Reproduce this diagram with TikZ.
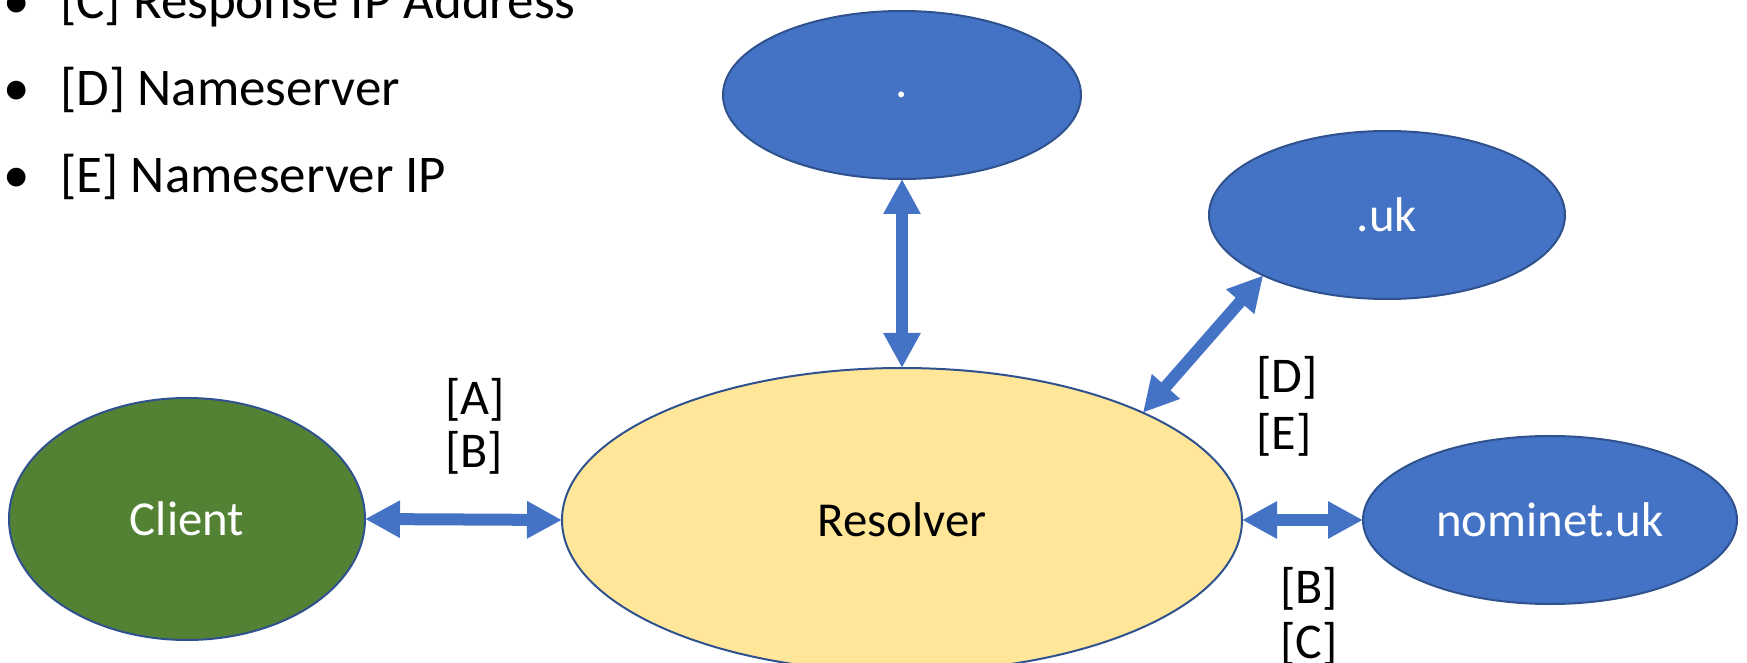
\documentclass[tikz,border=0pt]{standalone}
\usepackage{fontspec}
\setmainfont{Carlito}
\usetikzlibrary{arrows.meta}
\usetikzlibrary{shapes.geometric}
\definecolor{srvblue}{HTML}{4472C4}
\definecolor{srvedge}{HTML}{2F528F}
\definecolor{clgreen}{HTML}{548235}
\definecolor{resyellow}{HTML}{FFE699}
\tikzset{
  srv/.style = {ellipse, draw=srvedge, line width=1pt, inner sep=0pt,
    outer sep=0pt, font=\fontsize{24.4}{29}\selectfont},
  srv_b/.style = {srv, fill=srvblue, text=white},% name server
  srv_g/.style = {srv, fill=clgreen, text=white},% client
  srv_y/.style = {srv, fill=resyellow, text=black},% resolver
  msg/.style = {anchor=base west, inner sep=0pt,
    font=\fontsize{25}{30}\selectfont},
  key/.style = {msg, font=\fontsize{26.5}{32}\selectfont},
  lnk/.style = {draw=srvblue, line width=6pt,
    {Triangle[width=17.5pt,length=17.5pt]}-{Triangle[width=17.5pt,length=17.5pt]}}
}
\begin{document}
\begin{tikzpicture}[x=0.5pt,y=-0.5pt]
\useasboundingbox (0,0) rectangle (1747,663);
% servers
\node [srv_b, minimum width=179pt, minimum height=84pt] (root) at (902,95) {.};
\node [srv_b, minimum width=178pt, minimum height=84pt] (uk) at (1387,215) {.uk};
\node [srv_g, minimum width=178pt, minimum height=121pt] (client) at (187,519) {Client};
\node [srv_y, minimum width=340pt, minimum height=152pt] (resolver) at (902,520) {Resolver};
\node [srv_b, minimum width=187pt, minimum height=84pt] (nominet) at (1550,520) {nominet.uk};
% links
\draw [lnk] (client.east) -- (resolver.west);
\draw [lnk] (resolver.north) -- (root.south);
\draw [lnk] (resolver.24) -- (uk.206);
\draw [lnk] (resolver.east) -- (nominet.west);
% labels
\node [msg] (lA) at (445,415) {[A]};
\node [msg] (lB) at (445,467) {[B]};
\node [msg] (lD) at (1256,393) {[D]};
\node [msg] (lE) at (1256,450) {[E]};
\node [msg] (lB2) at (1280,603) {[B]};
\node [msg] (lC) at (1280,658) {[C]};
% legend
\node [key, anchor=base] (dotC) at (17,19) {\textbullet};
\node [key] (keyC) at (60,19) {[C] Response IP Address};
\node [key, anchor=base] (dotD) at (17,106) {\textbullet};
\node [key] (keyD) at (60,106) {[D] Nameserver};
\node [key, anchor=base] (dotE) at (17,193) {\textbullet};
\node [key] (keyE) at (60,193) {[E] Nameserver IP};
\end{tikzpicture}
\end{document}
